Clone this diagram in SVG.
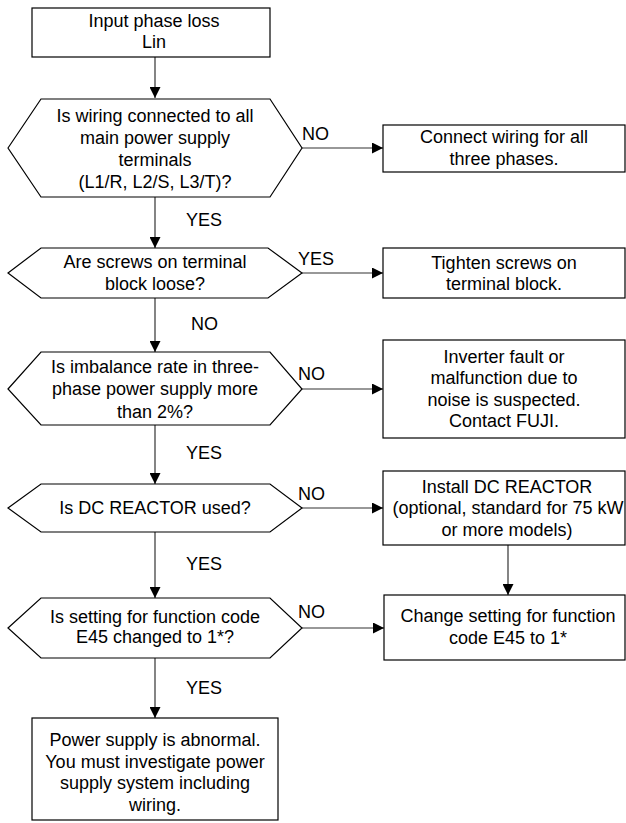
<svg xmlns="http://www.w3.org/2000/svg" width="626" height="823" viewBox="0 0 626 823">
<style>
.n{fill:#fff;stroke:#000;stroke-width:1.2}
.t{font-family:"Liberation Sans",Arial,sans-serif;font-size:18px;fill:#000;text-anchor:middle}
.l{font-family:"Liberation Sans",Arial,sans-serif;font-size:18px;fill:#000}
.c{stroke:#333;stroke-width:1.2;fill:none;marker-end:url(#a)}
</style>
<defs>
<marker id="a" viewBox="0 0 10 10" refX="10" refY="5" markerWidth="11" markerHeight="11" markerUnits="userSpaceOnUse" orient="auto">
<path d="M0,0 L10,5 L0,10 Z" fill="#000"/>
</marker>
</defs>
<g id="connectors">
<line class="c" x1="155" y1="57" x2="155" y2="98"/>
<line class="c" x1="302" y1="148" x2="383" y2="148"/>
<line class="c" x1="155" y1="197" x2="155" y2="248"/>
<line class="c" x1="302" y1="273" x2="383" y2="273"/>
<line class="c" x1="155" y1="298" x2="155" y2="352"/>
<line class="c" x1="302" y1="389" x2="383" y2="389"/>
<line class="c" x1="155" y1="425" x2="155" y2="484"/>
<line class="c" x1="302" y1="508" x2="383" y2="508"/>
<line class="c" x1="508" y1="545" x2="508" y2="595"/>
<line class="c" x1="155" y1="532" x2="155" y2="598"/>
<line class="c" x1="302" y1="628" x2="384" y2="628"/>
<line class="c" x1="155" y1="658" x2="155" y2="718"/>
<text class="l" x="302" y="140">NO</text>
<text class="l" x="186" y="226">YES</text>
<text class="l" x="298" y="265">YES</text>
<text class="l" x="191" y="330">NO</text>
<text class="l" x="298" y="380">NO</text>
<text class="l" x="186" y="459">YES</text>
<text class="l" x="298" y="500">NO</text>
<text class="l" x="186" y="570">YES</text>
<text class="l" x="298" y="618">NO</text>
<text class="l" x="186" y="694">YES</text>
</g>
<g id="start">
<rect class="n" x="32" y="8" width="238" height="49"/>
<text class="t" x="154" y="27">Input phase loss</text>
<text class="t" x="154" y="48">Lin</text>
</g>
<g id="q1">
<polygon class="n" points="8,148 41,99 270,99 302,148 270,197 41,197"/>
<text class="t" x="155" y="122">Is wiring connected to all</text>
<text class="t" x="155" y="144">main power supply</text>
<text class="t" x="155" y="166">terminals</text>
<text class="t" x="155" y="188">(L1/R, L2/S, L3/T)?</text>
</g>
<g id="a1">
<rect class="n" x="383" y="125" width="242" height="47"/>
<text class="t" x="504" y="143">Connect wiring for all</text>
<text class="t" x="504" y="165">three phases.</text>
</g>
<g id="q2">
<polygon class="n" points="8,273 41,248 268,248 302,273 268,298 41,298"/>
<text class="t" x="155" y="268">Are screws on terminal</text>
<text class="t" x="155" y="290">block loose?</text>
</g>
<g id="a2">
<rect class="n" x="383" y="248" width="242" height="50"/>
<text class="t" x="504" y="269">Tighten screws on</text>
<text class="t" x="504" y="290">terminal block.</text>
</g>
<g id="q3">
<polygon class="n" points="8,389 41,352 270,352 302,389 270,425 41,425"/>
<text class="t" x="155" y="373">Is imbalance rate in three-</text>
<text class="t" x="155" y="395">phase power supply more</text>
<text class="t" x="155" y="418">than 2%?</text>
</g>
<g id="a3">
<rect class="n" x="383" y="340" width="242" height="98"/>
<text class="t" x="504" y="363">Inverter fault or</text>
<text class="t" x="504" y="384">malfunction due to</text>
<text class="t" x="504" y="406">noise is suspected.</text>
<text class="t" x="504" y="427">Contact FUJI.</text>
</g>
<g id="q4">
<polygon class="n" points="8,508 41,484 270,484 302,508 270,532 41,532"/>
<text class="t" x="155" y="514">Is DC REACTOR used?</text>
</g>
<g id="a4">
<rect class="n" x="383" y="471" width="242" height="74"/>
<text class="t" x="507" y="493">Install DC REACTOR</text>
<text class="t" x="508" y="514">(optional, standard for 75 kW</text>
<text class="t" x="507" y="536">or more models)</text>
</g>
<g id="q5">
<polygon class="n" points="8,628 41,598 270,598 302,628 270,658 41,658"/>
<text class="t" x="155" y="623">Is setting for function code</text>
<text class="t" x="155" y="643">E45 changed to 1*?</text>
</g>
<g id="a5">
<rect class="n" x="384" y="595" width="241" height="65"/>
<text class="t" x="508" y="622">Change setting for function</text>
<text class="t" x="508" y="644">code E45 to 1*</text>
</g>
<g id="end">
<rect class="n" x="32" y="718" width="246" height="102"/>
<text class="t" x="155" y="746">Power supply is abnormal.</text>
<text class="t" x="155" y="768">You must investigate power</text>
<text class="t" x="155" y="789">supply system including</text>
<text class="t" x="155" y="811">wiring.</text>
</g>
</svg>
